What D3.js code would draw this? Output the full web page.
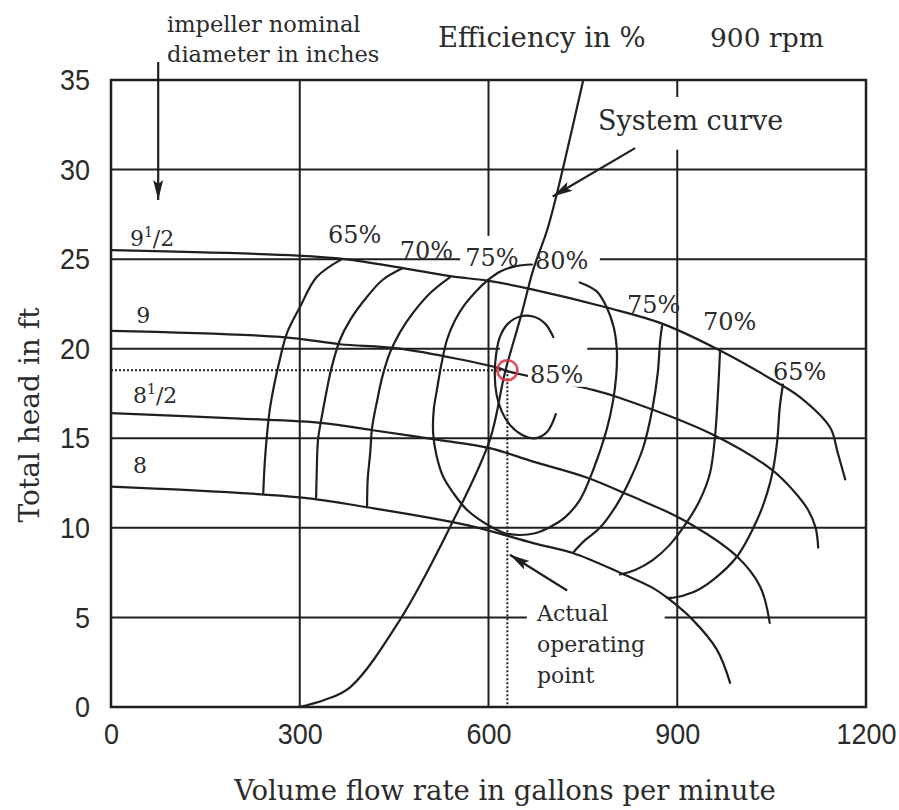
<!DOCTYPE html>
<html>
<head>
<meta charset="utf-8">
<script src="https://cdn.jsdelivr.net/npm/d3@7"></script>
<style>
  body { margin: 0; background: #fff; }
  svg { display: block; }
</style>
</head>
<body>
<svg id="chart" width="899" height="810"></svg>
<script>
/* DATA */

const xTicks = [0, 300, 600, 900, 1200]
const yTicks = [0, 5, 10, 15, 20, 25, 30, 35]

// Pump head curves, [gpm, ft]
const curve9half = [[0, 25.5], [297, 25.2], [372, 25.0], [464, 24.5], [539, 24.05], [598, 23.8], [671, 23.3],
  [788, 22.3], [876, 21.4], [968, 19.9], [1052, 18.25], [1095, 17.3], [1143, 15.6], [1155, 14.2], [1167, 12.7]]
const curve9 = [[0, 21.0], [273, 20.65], [364, 20.25], [459, 20.0], [618, 18.9], [629, 18.75], [766, 17.7],
  [809, 17.25], [957, 15.2], [1052, 13.2], [1084, 12.1], [1108, 11.0], [1120, 10.0], [1124, 8.9]]
const curve8half = [[0, 16.4], [205, 16.1], [337, 15.85], [416, 15.45], [523, 14.9], [602, 14.45], [671, 13.7],
  [757, 12.8], [825, 11.8], [909, 10.45], [995, 8.4], [1032, 6.7], [1047, 4.7]]
const curve8 = [[0, 12.3], [300, 11.7], [407, 11.15], [566, 10.15], [671, 9.15], [734, 8.6], [809, 7.5],
  [861, 6.65], [884, 6.1], [925, 4.85], [963, 3.2], [984, 1.35]]

// System curve
const systemCurve = [[300, 0], [340, 0.4], [380, 1.1], [459, 4.85], [539, 10.05], [602, 14.9], [626, 18.65],
  [653, 22.0], [671, 24.4], [693, 26.6], [709, 28.7], [750, 34.9]]

// Efficiency contours
const eff65left = [[367, 25.0], [327, 24.0], [300, 22.3], [280, 20.9], [269, 19.5], [253, 16.75], [245, 13.95], [242, 11.95]]
const eff70left = [[464, 24.5], [432, 23.85], [407, 22.9], [380, 21.6], [364, 20.5], [351, 19.0], [343, 17.7],
  [335, 16.2], [329, 14.9], [327, 13.1], [326, 11.7]]
const eff75left = [[539, 24.0], [507, 23.1], [480, 22.0], [459, 20.9], [443, 19.75], [431, 18.4], [423, 17.1],
  [415, 15.6], [412, 14.2], [408, 12.7], [407, 11.15]]
const eff80loop = [[745, 23.7], [772, 23.2], [788, 22.3], [799, 21.2], [804, 19.9], [803, 18.5], [798, 17.1],
  [788, 15.5], [766, 13.2], [745, 11.55], [722, 10.6], [698, 10.05], [674, 9.7], [650, 9.6], [626, 9.7],
  [602, 10.1], [566, 11.0], [544, 11.95], [528, 12.85], [517, 14.1], [512, 15.3], [513, 16.6], [518, 17.7],
  [525, 19.1], [534, 20.5], [547, 21.6], [563, 22.5], [580, 23.2], [598, 23.8], [618, 24.3], [642, 24.6], [669, 24.7]]
const eff85 = [[703, 20.65], [690, 21.4], [671, 21.8], [650, 21.8], [631, 21.4], [618, 20.65], [612, 19.65],
  [610, 18.5], [613, 17.4], [621, 16.5], [634, 15.75], [653, 15.2], [674, 15.0], [693, 15.35], [707, 16.35]]
const eff75right = [[876, 21.3], [873, 20.5], [869, 18.65], [861, 16.75], [846, 14.5], [825, 12.7], [804, 11.3],
  [777, 10.0], [753, 9.3], [734, 8.6]]
const eff70right = [[968, 19.9], [965, 17.7], [960, 15.1], [952, 13.05], [936, 11.55], [915, 10.3], [888, 9.05],
  [861, 8.2], [833, 7.65], [809, 7.4]]
const eff65right = [[1068, 18.0], [1063, 16.75], [1059, 14.9], [1052, 13.2], [1043, 11.95], [1027, 10.45],
  [995, 8.4], [957, 7.1], [925, 6.4], [893, 6.1], [884, 6.1]]

const operatingPoint = [630, 18.8]

// Labels placed in chart units (gpm, ft)
const pctLabels = [
  { text: '65%', q: 345, h: 25.9 },
  { text: '70%', q: 459, h: 25.0 },
  { text: '75%', q: 563, h: 24.6 },
  { text: '80%', q: 674, h: 24.45 },
  { text: '85%', q: 666, h: 18.1, masked: true },
  { text: '75%', q: 820, h: 22.0 },
  { text: '70%', q: 941, h: 21.05 },
  { text: '65%', q: 1052, h: 18.25 }
]
const diaLabels = [
  { main: '9', frac: true, q: 30, h: 25.75 },
  { main: '9', frac: false, q: 40, h: 21.45 },
  { main: '8', frac: true, q: 35, h: 16.95 },
  { main: '8', frac: false, q: 35, h: 13.05 }
]

/* SETUP */

const ink = '#1f1f1f'
const textInk = '#2b2b2b'
const serif = "'DejaVu Serif', 'Liberation Serif', serif"

const svg = d3.select('#chart')
const x = d3.scaleLinear().domain([0, 1200]).range([111, 866])
const y = d3.scaleLinear().domain([0, 35]).range([707, 80])

const line = d3.line()
  .x(d => x(d[0]))
  .y(d => y(d[1]))
  .curve(d3.curveCatmullRom.alpha(0.5))

svg.append('rect').attr('width', 899).attr('height', 810).attr('fill', '#fff')

// Arrowhead
svg.append('defs').append('marker')
  .attr('id', 'head')
  .attr('markerUnits', 'userSpaceOnUse')
  .attr('markerWidth', 22)
  .attr('markerHeight', 12)
  .attr('refX', 20)
  .attr('refY', 6)
  .attr('orient', 'auto')
  .append('path')
  .attr('d', 'M0,1 L20,6 L0,11 L4,6 Z')
  .attr('fill', ink)

/* GRID - the original ruling is broken in a few places around labels */

const hGaps = { 5: [661, 880], 20: [618, 757], 25: [555, 777] }
const vGaps = { 600: [23.9, 26.3], 900: [31.1, 34.05] }

const grid = svg.append('g').attr('stroke', ink).attr('stroke-width', 2)

yTicks.filter(v => v > 0 && v < 35).forEach(v => {
  const segs = hGaps[v] ? [[0, hGaps[v][0]], [hGaps[v][1], 1200]] : [[0, 1200]]
  segs.forEach(s => {
    grid.append('line')
      .attr('x1', x(s[0])).attr('x2', x(s[1]))
      .attr('y1', y(v)).attr('y2', y(v))
  })
})

xTicks.filter(v => v > 0 && v < 1200).forEach(v => {
  const segs = vGaps[v] ? [[0, vGaps[v][0]], [vGaps[v][1], 35]] : [[0, 35]]
  segs.forEach(s => {
    grid.append('line')
      .attr('x1', x(v)).attr('x2', x(v))
      .attr('y1', y(s[0])).attr('y2', y(s[1]))
  })
})

// Frame
svg.append('rect')
  .attr('x', x(0)).attr('y', y(35))
  .attr('width', x(1200) - x(0)).attr('height', y(0) - y(35))
  .attr('fill', 'none').attr('stroke', ink).attr('stroke-width', 2.5)

/* AXES */

const yAxis = svg.append('g')
  .attr('transform', `translate(${x(0)},0)`)
  .call(d3.axisLeft(y).tickValues(yTicks).tickSize(0).tickPadding(21).tickFormat(d3.format('d')))
const xAxis = svg.append('g')
  .attr('transform', `translate(0,${y(0)})`)
  .call(d3.axisBottom(x).tickValues(xTicks).tickSize(0).tickPadding(16).tickFormat(d3.format('d')))

;[yAxis, xAxis].forEach(ax => {
  ax.select('.domain').remove()
  ax.selectAll('text')
    .attr('fill', textInk)
    .style('font-family', "'Liberation Sans', Arial, sans-serif")
    .style('font-size', '30px')
    .attr('textLength', d => String(d).length * 15)
    .attr('lengthAdjust', 'spacingAndGlyphs')
})

// keep the last label inside the page edge
xAxis.selectAll('.tick text')
  .filter(d => d === 1200)
  .attr('text-anchor', 'end')
  .attr('x', 30)

svg.append('text')
  .attr('transform', 'translate(39,415) rotate(-90)')
  .attr('text-anchor', 'middle')
  .style('font-family', serif).style('font-size', '28px')
  .attr('fill', textInk)
  .text('Total head in ft')

svg.append('text')
  .attr('x', 505).attr('y', 800)
  .attr('text-anchor', 'middle')
  .style('font-family', serif).style('font-size', '27.5px')
  .attr('fill', textInk)
  .text('Volume flow rate in gallons per minute')

/* CURVES */

const curves = svg.append('g')
  .attr('fill', 'none').attr('stroke', ink).attr('stroke-width', 2.2)
  .attr('stroke-linecap', 'round')

;[curve9half, curve9, curve8half, curve8, systemCurve,
  eff65left, eff70left, eff75left, eff80loop, eff85,
  eff75right, eff70right, eff65right].forEach(c => {
  curves.append('path').attr('d', line(c))
})

// Operating point guides
const guides = svg.append('g')
  .attr('stroke', ink).attr('stroke-width', 2).attr('stroke-dasharray', '2,2')
guides.append('line')
  .attr('x1', x(0)).attr('x2', x(operatingPoint[0]))
  .attr('y1', y(operatingPoint[1])).attr('y2', y(operatingPoint[1]))
guides.append('line')
  .attr('x1', x(operatingPoint[0])).attr('x2', x(operatingPoint[0]))
  .attr('y1', y(operatingPoint[1])).attr('y2', y(0))

/* LABELS */

pctLabels.forEach(d => {
  const t = svg.append('text')
    .attr('x', x(d.q)).attr('y', y(d.h))
    .style('font-family', serif).style('font-size', '24px')
    .attr('fill', textInk)
    .text(d.text)
  if (d.masked) {
    const b = t.node().getBBox()
    svg.insert('rect', () => t.node())
      .attr('x', b.x - 2).attr('y', b.y + 3)
      .attr('width', b.width + 5).attr('height', b.height - 5)
      .attr('fill', '#fff')
  }
})

diaLabels.forEach(d => {
  const t = svg.append('text')
    .attr('x', x(d.q)).attr('y', y(d.h))
    .style('font-family', serif).style('font-size', '22px')
    .attr('fill', textInk)
  t.append('tspan').text(d.main)
  if (d.frac) {
    t.append('tspan').attr('dy', -9).style('font-size', '14px').text('1')
    t.append('tspan').attr('dy', 9).text('/2')
  }
})

// Red marker at the operating point
svg.append('circle')
  .attr('cx', x(operatingPoint[0])).attr('cy', y(operatingPoint[1]))
  .attr('r', 10)
  .attr('fill', 'none').attr('stroke', '#d8323f').attr('stroke-width', 2.6)
  .attr('opacity', 0.85)

// Top annotations
const topText = svg.append('g')
  .style('font-family', serif).attr('fill', textInk)
topText.append('text').attr('x', 167).attr('y', 32).style('font-size', '22.5px').text('impeller nominal')
topText.append('text').attr('x', 167).attr('y', 62).style('font-size', '22.5px').text('diameter in inches')
topText.append('text').attr('x', 438).attr('y', 47).style('font-size', '27.5px').text('Efficiency in %')
topText.append('text').attr('x', 710).attr('y', 47).style('font-size', '26.5px').text('900 rpm')
topText.append('text').attr('x', 598).attr('y', 130).style('font-size', '27px').text('System curve')

const opText = svg.append('text')
  .style('font-family', serif).style('font-size', '22px').attr('fill', textInk)
;['Actual', 'operating', 'point'].forEach((s, i) => {
  opText.append('tspan').attr('x', 537).attr('y', 621 + i * 31).text(s)
})

// Arrows
const arrows = [
  [[75, 36.0], [75, 28.3]],
  [[833, 31.2], [702, 28.5]],
  [[725, 6.5], [634, 8.5]]
]
arrows.forEach(a => {
  svg.append('line')
    .attr('x1', x(a[0][0])).attr('y1', y(a[0][1]))
    .attr('x2', x(a[1][0])).attr('y2', y(a[1][1]))
    .attr('stroke', ink).attr('stroke-width', 2.2)
    .attr('marker-end', 'url(#head)')
})
</script>
</body>
</html>
